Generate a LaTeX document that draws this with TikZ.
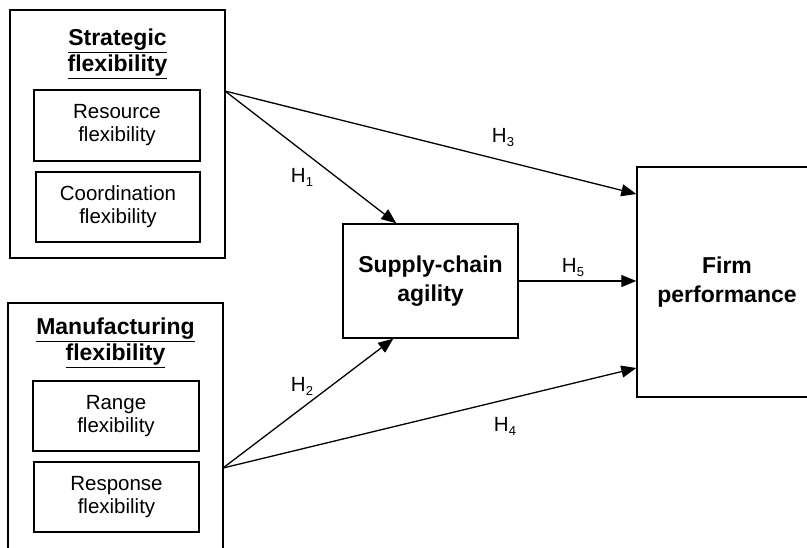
\documentclass[tikz,border=0pt]{standalone}
\usepackage{fontspec}
\setmainfont{Liberation Sans}
\usetikzlibrary{arrows.meta}
\begin{document}
\begin{tikzpicture}[x=1pt,y=-1pt,
  box/.style={draw,line width=1.4pt,inner sep=0pt,align=center,font=\fontsize{20.5}{23}\selectfont},
  title/.style={align=center,inner sep=0pt,font=\fontsize{23}{26}\bfseries\selectfont},
  conn/.style={line width=1.3pt,-{Triangle[length=15pt,width=12pt]}},
  lab/.style={inner sep=0pt,font=\fontsize{20.5}{23}\selectfont}]
\useasboundingbox (0,0) rectangle (807,547);
\clip (0,0) rectangle (807,547);
% Strategic flexibility
\node[box,minimum width=215,minimum height=248] (sf) at (117.5,134) {};
\node[title] (sft) at (117.5,54) {\underline{Strategic}\\\underline{flexibility}};
\node[box,minimum width=166,minimum height=71] (rf) at (117,125.5) {Resource\\flexibility};
\node[box,minimum width=164,minimum height=70] (cf) at (118,207) {Coordination\\flexibility};
% Manufacturing flexibility
\node[box,minimum width=215,minimum height=280] (mf) at (115.5,443) {};
\node[title] (mft) at (115.5,343) {\underline{Manufacturing}\\\underline{flexibility}};
\node[box,minimum width=166,minimum height=70] (rg) at (116,416) {Range\\flexibility};
\node[box,minimum width=165,minimum height=70] (rp) at (116.5,497) {Response\\flexibility};
% Supply-chain agility
\node[box,minimum width=175,minimum height=114,font=\fontsize{23}{29}\bfseries\selectfont] (sc) at (430.5,281) {Supply-chain\\agility};
% Firm performance
\node[box,minimum width=180,minimum height=230,font=\fontsize{23}{29}\bfseries\selectfont] (fp) at (727,282) {Firm\\performance};
% connector end points
\coordinate (s1) at (225,91);
\coordinate (m1) at (223,468);
\coordinate (t1) at ([xshift=54pt]sc.north west);
\coordinate (t2) at ([xshift=51pt]sc.south west);
\coordinate (t3) at ([yshift=88pt]fp.west);
\coordinate (t4) at ([yshift=-86pt]fp.west);
% connectors
\draw[conn] (s1) -- (t1);
\draw[conn] (s1) -- (t3);
\draw[conn] (m1) -- (t2);
\draw[conn] (m1) -- (t4);
\draw[conn] (sc.east) -- (fp.west |- sc.east);
% labels
\node[lab] (h1) at (302,177) {H\raisebox{-4pt}{\fontsize{13}{13}\selectfont 1}};
\node[lab] (h2) at (302,386) {H\raisebox{-4pt}{\fontsize{13}{13}\selectfont 2}};
\node[lab] (h3) at (503,138) {H\raisebox{-4pt}{\fontsize{13}{13}\selectfont 3}};
\node[lab] (h4) at (505,426) {H\raisebox{-4pt}{\fontsize{13}{13}\selectfont 4}};
\node[lab] (h5) at (573,268) {H\raisebox{-4pt}{\fontsize{13}{13}\selectfont 5}};
\end{tikzpicture}
\end{document}
